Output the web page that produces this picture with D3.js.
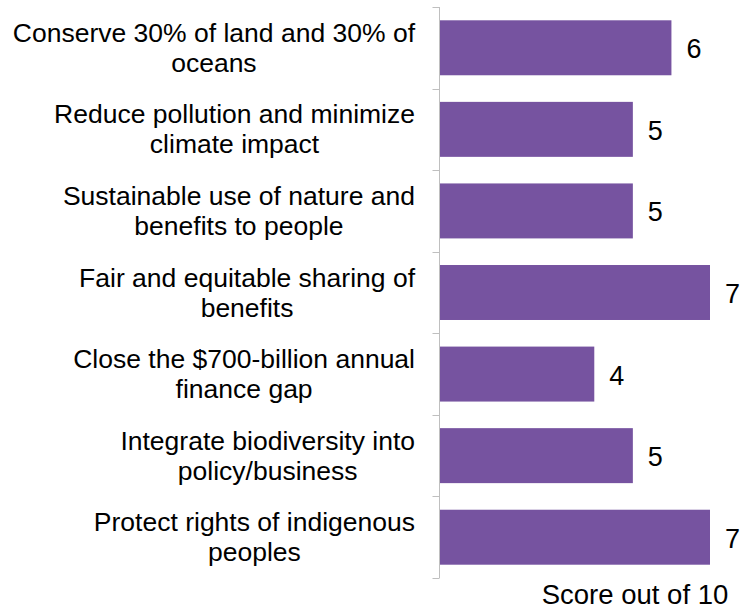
<!DOCTYPE html>
<html>
<head>
<meta charset="utf-8">
<script src="https://cdn.jsdelivr.net/npm/d3@7"></script>
<style>
  html, body { margin: 0; padding: 0; background: #ffffff; }
  svg { display: block; }
  text { font-family: "Liberation Sans", Arial, sans-serif; fill: #000; }
</style>
</head>
<body>
<svg id="chart" width="740" height="608"></svg>
<script>
const categories = [
  ["Conserve 30% of land and 30% of", "oceans"],
  ["Reduce pollution and minimize", "climate impact"],
  ["Sustainable use of nature and", "benefits to people"],
  ["Fair and equitable sharing of", "benefits"],
  ["Close the $700-billion annual", "finance gap"],
  ["Integrate biodiversity into", "policy/business"],
  ["Protect rights of indigenous", "peoples"]
];
const scores = [6, 5, 5, 7, 4, 5, 7];
const axisTitle = "Score out of 10";

const svg = d3.select("#chart");
const labelFont = 26.5;
const valueFont = 27;
const titleFont = 27.5;
const barColor = "#7653a0";
const axisColor = "#bfbfbf";

const keys = categories.map((c, i) => i);
const y = d3.scaleBand().domain(keys).range([7, 578]).paddingInner(0.326).paddingOuter(0.163);
const x = d3.scaleLinear().domain([0, 7]).range([440, 710]);

// bars
svg.append("g").selectAll("rect").data(scores).join("rect")
  .attr("x", x(0))
  .attr("y", (d, i) => y(i))
  .attr("width", d => x(d) - x(0))
  .attr("height", y.bandwidth())
  .attr("fill", barColor);

// axis line and boundary ticks
const axisX = 439.5;
const g = svg.append("g");
g.append("line").attr("x1", axisX).attr("x2", axisX)
  .attr("y1", y.range()[0]).attr("y2", y.range()[1])
  .attr("stroke", axisColor).attr("stroke-width", 1);
const bounds = d3.range(categories.length + 1).map(i => y.range()[0] + i * y.step());
g.selectAll("line.tick").data(bounds).join("line").attr("class", "tick")
  .attr("x1", axisX - 7).attr("x2", axisX)
  .attr("y1", d => Math.round(d) + 0.5).attr("y2", d => Math.round(d) + 0.5)
  .attr("stroke", axisColor).attr("stroke-width", 1);

// value labels
svg.append("g").selectAll("text").data(scores).join("text")
  .attr("x", d => x(d) + 15)
  .attr("y", (d, i) => y(i) + y.bandwidth() / 2 + 10.5)
  .attr("font-size", valueFont)
  .text(d => d);

// category labels: block right-aligned, lines centered within block
const labelRight = 415;
const lg = svg.append("g");
categories.forEach((lines, i) => {
  const cy = y(i) + y.bandwidth() / 2;
  const texts = lines.map((line, j) => lg.append("text")
    .attr("font-size", labelFont)
    .attr("text-anchor", "middle")
    .attr("y", cy - 6 + j * 30)
    .text(line));
  const maxW = d3.max(texts, t => t.node().getComputedTextLength());
  texts.forEach(t => t.attr("x", labelRight - maxW / 2));
});

// axis title
svg.append("text")
  .attr("x", 635)
  .attr("y", 604)
  .attr("text-anchor", "middle")
  .attr("font-size", titleFont)
  .text(axisTitle);
</script>
</body>
</html>
